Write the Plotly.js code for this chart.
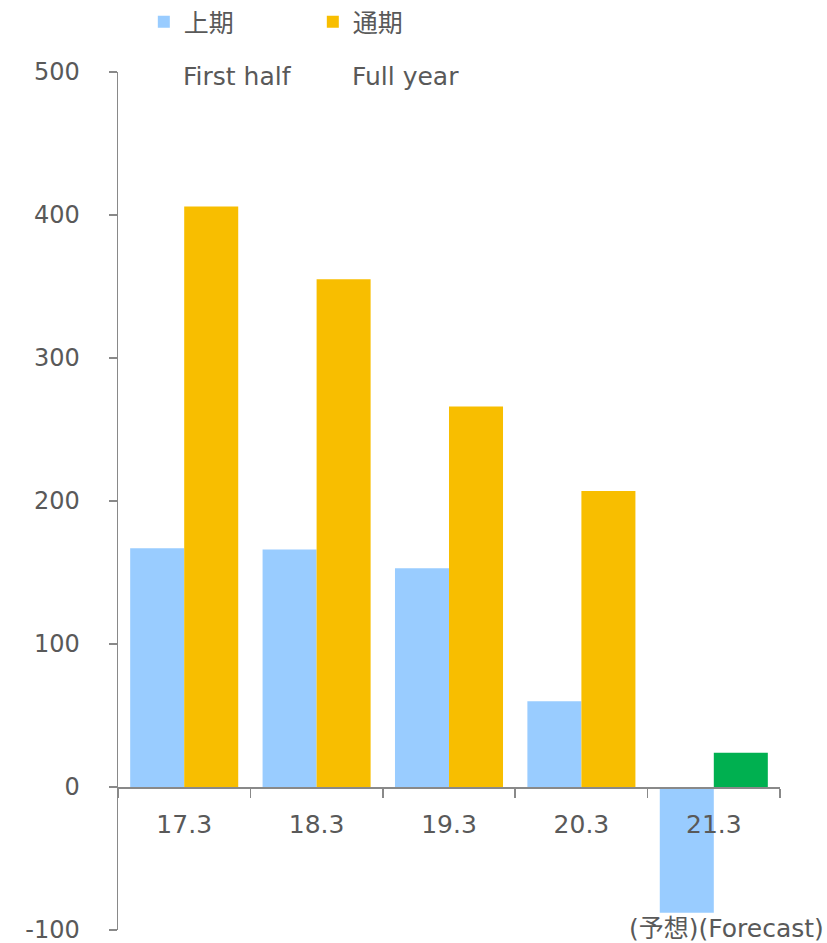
<!DOCTYPE html>
<html>
<head>
<meta charset="utf-8">
<script src="https://cdn.plot.ly/plotly-3.0.1.min.js"></script>
<style>html,body{margin:0;padding:0;background:#fff;}#chart{width:827px;height:943px;}</style>
</head>
<body>
<div id="chart"></div>
<script>
const categories = ['17.3', '18.3', '19.3', '20.3', '21.3'];
const firstHalf = [167, 166, 153, 60, -88];
const fullYear = [406, 355, 266, 207, 24];
const fullYearColors = ['#F8BE00', '#F8BE00', '#F8BE00', '#F8BE00', '#00B050'];
const seriesNames = ['上期', '通期'];
const seriesNamesEn = ['First half', 'Full year'];
const forecastNote = '(予想)(Forecast)';
const yTicks = [-100, 0, 100, 200, 300, 400, 500];

const FONT = 'DejaVu Sans, Noto Sans CJK JP, sans-serif';
const TXT = '#595959';
const AX = '#898989';

const traces = [
  {type: 'bar', name: seriesNames[0], x: categories, y: firstHalf, marker: {color: '#99CCFF'}, hoverinfo: 'skip'},
  {type: 'bar', name: seriesNames[1], x: categories, y: fullYear, marker: {color: fullYearColors}, hoverinfo: 'skip'}
];

const layout = {
  width: 827, height: 943,
  margin: {l: 118, r: 47, t: 72, b: 13, autoexpand: false},
  paper_bgcolor: '#fff', plot_bgcolor: '#fff',
  font: {family: FONT, size: 25, color: TXT},
  barmode: 'group', bargap: 0.184, bargroupgap: 0,
  showlegend: true,
  legend: {
    orientation: 'h', xref: 'paper', x: 0.039, xanchor: 'left',
    yref: 'container', y: 1 - 22/943, yanchor: 'middle',
    font: {family: FONT, size: 25, color: TXT},
    entrywidth: 124, entrywidthmode: 'pixels',
    bgcolor: 'rgba(0,0,0,0)', borderwidth: 0
  },
  xaxis: {
    type: 'category', anchor: 'free', position: 1/6, automargin: false,
    showline: true, linecolor: AX, linewidth: 1.5,
    ticks: 'outside', tickson: 'boundaries', ticklen: 9, tickwidth: 1.5, tickcolor: AX,
    ticklabelstandoff: 14,
    showgrid: false, zeroline: false,
    tickfont: {family: FONT, size: 25, color: TXT}
  },
  yaxis: {
    range: [-100, 500], tickvals: yTicks, ticktext: yTicks.map(String), automargin: false,
    showline: true, linecolor: AX, linewidth: 1.5,
    ticks: 'outside', ticklen: 8, tickwidth: 1.5, tickcolor: AX,
    ticklabelstandoff: 24, ticklabeloverflow: 'allow',
    showgrid: false, zeroline: false,
    tickfont: {family: FONT, size: 24, color: TXT}
  },
  annotations: [
    {xref: 'paper', yref: 'paper', x: 0.0952, y: 0.9953, xanchor: 'left', yanchor: 'middle', text: seriesNamesEn[0], showarrow: false, font: {family: FONT, size: 25, color: TXT}},
    {xref: 'paper', yref: 'paper', x: 0.3505, y: 0.9953, xanchor: 'left', yanchor: 'middle', text: seriesNamesEn[1], showarrow: false, font: {family: FONT, size: 25, color: TXT}},
    {xref: 'paper', yref: 'paper', x: 1.0695, y: 0.002, xanchor: 'right', yanchor: 'middle', text: forecastNote, showarrow: false, font: {family: FONT, size: 25, color: TXT}}
  ]
};

Plotly.newPlot('chart', traces, layout, {staticPlot: true, displayModeBar: false});
</script>
</body>
</html>
